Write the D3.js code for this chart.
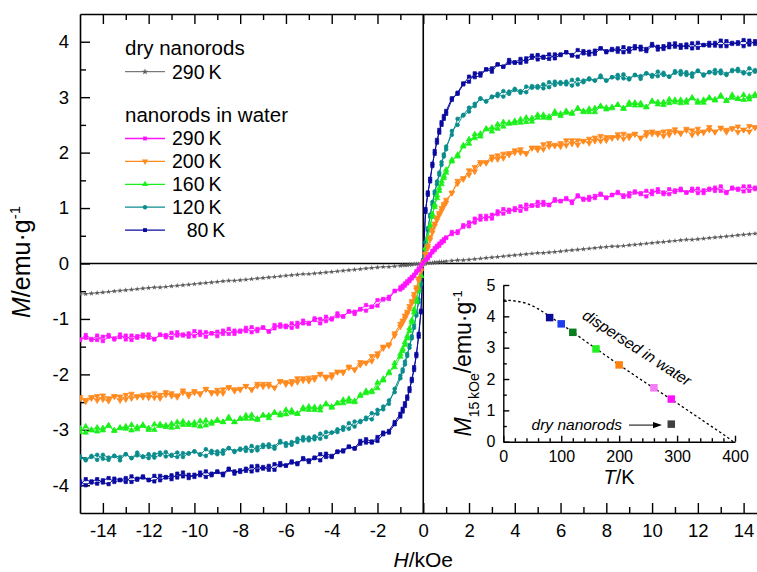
<!DOCTYPE html>
<html>
<head>
<meta charset="utf-8">
<script src="https://cdn.jsdelivr.net/npm/d3@7"></script>
<style>
  body { margin: 0; background: #fff; }
  svg { display: block; }
  text { font-family: "Liberation Sans", Arial, sans-serif; fill: #000; }
</style>
</head>
<body>
<svg id="chart" width="757" height="572"></svg>
<script>
// ---- magnetisation loops: applied field (kOe) and M (emu/g) ----
const field = [
  -15, -14.75, -14.5, -14.25, -14, -13.75, -13.5, -13.25, -13, -12.75,
  -12.5, -12.25, -12, -11.75, -11.5, -11.25, -11, -10.75, -10.5, -10.25,
  -10, -9.75, -9.5, -9.25, -9, -8.75, -8.5, -8.25, -8, -7.75,
  -7.5, -7.25, -7, -6.75, -6.5, -6.25, -6, -5.75, -5.5, -5.25,
  -5, -4.75, -4.5, -4.25, -4, -3.75, -3.5, -3.25, -3, -2.75,
  -2.5, -2.25, -2, -1.75, -1.5, -1.25,
  -1, -0.9, -0.8, -0.7, -0.6, -0.5, -0.4, -0.3, -0.2, -0.1, 0,
  0.1, 0.2, 0.3, 0.4, 0.5, 0.6, 0.7, 0.8, 0.9, 1,
  1.25, 1.5, 1.75, 2, 2.25, 2.5, 2.75, 3, 3.25, 3.5,
  3.75, 4, 4.25, 4.5, 4.75, 5, 5.25, 5.5, 5.75, 6,
  6.25, 6.5, 6.75, 7, 7.25, 7.5, 7.75, 8, 8.25, 8.5,
  8.75, 9, 9.25, 9.5, 9.75, 10, 10.25, 10.5, 10.75, 11,
  11.25, 11.5, 11.75, 12, 12.25, 12.5, 12.75, 13, 13.25, 13.5,
  13.75, 14, 14.25, 14.5, 14.75, 15
];

// dry nanorods, 290 K
const mDry290 = [
  -0.55, -0.55, -0.54, -0.53, -0.52, -0.51, -0.50, -0.49, -0.48, -0.47,
  -0.46, -0.45, -0.44, -0.43, -0.43, -0.42, -0.41, -0.40, -0.39, -0.38,
  -0.37, -0.36, -0.35, -0.34, -0.33, -0.32, -0.31, -0.31, -0.30, -0.29,
  -0.28, -0.27, -0.26, -0.25, -0.24, -0.23, -0.22, -0.21, -0.20, -0.19,
  -0.19, -0.18, -0.17, -0.16, -0.15, -0.14, -0.13, -0.12, -0.11, -0.10,
  -0.09, -0.08, -0.07, -0.06, -0.06, -0.05,
  -0.04, -0.03, -0.03, -0.03, -0.02, -0.02, -0.01, -0.01, -0.01, 0.00, 0.00,
  0.00, 0.01, 0.01, 0.01, 0.02, 0.02, 0.03, 0.03, 0.03, 0.04,
  0.05, 0.06, 0.06, 0.07, 0.08, 0.09, 0.10, 0.11, 0.12, 0.13,
  0.14, 0.15, 0.16, 0.17, 0.18, 0.19, 0.19, 0.20, 0.21, 0.22,
  0.23, 0.24, 0.25, 0.26, 0.27, 0.28, 0.29, 0.30, 0.31, 0.31,
  0.32, 0.33, 0.34, 0.35, 0.36, 0.37, 0.38, 0.39, 0.40, 0.41,
  0.42, 0.43, 0.43, 0.44, 0.45, 0.46, 0.47, 0.48, 0.49, 0.50,
  0.51, 0.52, 0.53, 0.54, 0.55, 0.56
];

// nanorods in water: field swept up (Up) and back down (Down), same field points
const mWater290Up = [
  -1.37, -1.34, -1.38, -1.30, -1.40, -1.32, -1.35, -1.28, -1.37, -1.30,
  -1.34, -1.32, -1.28, -1.36, -1.29, -1.33, -1.25, -1.30, -1.28, -1.32,
  -1.22, -1.29, -1.24, -1.26, -1.31, -1.21, -1.27, -1.21, -1.23, -1.16,
  -1.24, -1.18, -1.15, -1.23, -1.17, -1.10, -1.12, -1.16, -1.07, -1.08,
  -1.09, -0.99, -1.00, -1.04, -0.99, -0.90, -0.96, -0.86, -0.87, -0.82,
  -0.85, -0.78, -0.66, -0.65, -0.64, -0.50,
  -0.43, -0.44, -0.36, -0.36, -0.28, -0.27, -0.20, -0.17, -0.09, -0.06, 0.00,
  0.06, 0.09, 0.17, 0.20, 0.28, 0.29, 0.36, 0.37, 0.44, 0.46,
  0.57, 0.55, 0.66, 0.74, 0.74, 0.86, 0.80, 0.88, 0.89, 0.98,
  0.93, 1.00, 0.95, 1.06, 1.04, 1.04, 1.11, 1.06, 1.16, 1.12,
  1.16, 1.09, 1.21, 1.15, 1.20, 1.18, 1.24, 1.18, 1.24, 1.29,
  1.23, 1.21, 1.28, 1.27, 1.31, 1.25, 1.34, 1.28, 1.25, 1.32,
  1.35, 1.28, 1.31, 1.35, 1.27, 1.33, 1.37, 1.31, 1.27, 1.37,
  1.35, 1.30, 1.39, 1.34, 1.37, 1.32
];
const mWater290Down = [
  -1.38, -1.29, -1.36, -1.38, -1.32, -1.29, -1.37, -1.33, -1.30, -1.38,
  -1.31, -1.28, -1.34, -1.37, -1.28, -1.29, -1.34, -1.24, -1.30, -1.26,
  -1.31, -1.23, -1.32, -1.26, -1.23, -1.27, -1.18, -1.27, -1.21, -1.22,
  -1.15, -1.22, -1.16, -1.22, -1.11, -1.14, -1.15, -1.08, -1.14, -1.03,
  -1.07, -1.02, -1.08, -0.96, -1.01, -0.95, -0.95, -0.87, -0.91, -0.83,
  -0.75, -0.78, -0.76, -0.64, -0.60, -0.49,
  -0.47, -0.40, -0.40, -0.32, -0.32, -0.24, -0.23, -0.14, -0.12, -0.03, 0.02,
  0.07, 0.12, 0.14, 0.23, 0.24, 0.32, 0.32, 0.40, 0.40, 0.47,
  0.53, 0.58, 0.69, 0.67, 0.81, 0.79, 0.86, 0.81, 0.94, 0.90,
  0.97, 0.96, 1.03, 0.98, 1.05, 1.11, 1.06, 1.05, 1.13, 1.13,
  1.18, 1.12, 1.23, 1.17, 1.15, 1.22, 1.26, 1.19, 1.23, 1.27,
  1.20, 1.27, 1.30, 1.25, 1.21, 1.31, 1.29, 1.25, 1.34, 1.29,
  1.32, 1.28, 1.35, 1.27, 1.32, 1.35, 1.31, 1.39, 1.29, 1.35,
  1.33, 1.39, 1.31, 1.37, 1.30, 1.39
];

const mWater200Up = [
  -2.41, -2.49, -2.43, -2.39, -2.45, -2.48, -2.39, -2.40, -2.45, -2.35,
  -2.41, -2.37, -2.42, -2.34, -2.43, -2.37, -2.34, -2.38, -2.29, -2.39,
  -2.33, -2.34, -2.27, -2.34, -2.28, -2.34, -2.24, -2.27, -2.28, -2.21,
  -2.27, -2.17, -2.22, -2.17, -2.24, -2.12, -2.18, -2.12, -2.14, -2.07,
  -2.12, -2.05, -1.99, -2.04, -2.05, -1.96, -1.95, -1.88, -1.91, -1.78,
  -1.79, -1.76, -1.62, -1.50, -1.46, -1.30,
  -1.14, -1.03, -0.99, -0.87, -0.82, -0.68, -0.60, -0.43, -0.31, -0.14, 0.00,
  0.16, 0.28, 0.47, 0.56, 0.72, 0.78, 0.91, 0.95, 1.07, 1.10,
  1.28, 1.44, 1.52, 1.68, 1.66, 1.80, 1.83, 1.93, 1.88, 1.98,
  1.96, 2.00, 2.06, 1.99, 2.08, 2.05, 2.15, 2.11, 2.14, 2.11,
  2.22, 2.16, 2.22, 2.21, 2.17, 2.27, 2.21, 2.28, 2.26, 2.33,
  2.25, 2.31, 2.34, 2.26, 2.31, 2.38, 2.36, 2.30, 2.39, 2.37,
  2.34, 2.43, 2.40, 2.35, 2.38, 2.46, 2.37, 2.45, 2.41, 2.44,
  2.37, 2.41, 2.48, 2.45, 2.40, 2.47
];
const mWater200Down = [
  -2.44, -2.46, -2.41, -2.47, -2.38, -2.43, -2.40, -2.47, -2.37, -2.43,
  -2.39, -2.41, -2.36, -2.42, -2.37, -2.32, -2.39, -2.41, -2.33, -2.35,
  -2.30, -2.36, -2.26, -2.32, -2.34, -2.27, -2.23, -2.30, -2.26, -2.21,
  -2.28, -2.21, -2.17, -2.21, -2.24, -2.13, -2.14, -2.17, -2.07, -2.11,
  -2.06, -2.09, -2.00, -2.07, -2.00, -1.95, -1.97, -1.86, -1.92, -1.83,
  -1.79, -1.67, -1.67, -1.53, -1.48, -1.26,
  -1.09, -1.07, -0.94, -0.91, -0.77, -0.72, -0.55, -0.47, -0.27, -0.12, 0.03,
  0.18, 0.32, 0.43, 0.61, 0.68, 0.83, 0.87, 1.00, 1.03, 1.15,
  1.27, 1.49, 1.54, 1.60, 1.74, 1.83, 1.81, 1.88, 1.95, 1.90,
  1.99, 2.04, 2.00, 1.98, 2.09, 2.09, 2.06, 2.17, 2.12, 2.17,
  2.13, 2.22, 2.14, 2.21, 2.25, 2.21, 2.30, 2.22, 2.28, 2.27,
  2.34, 2.27, 2.33, 2.27, 2.37, 2.34, 2.33, 2.38, 2.32, 2.42,
  2.36, 2.40, 2.32, 2.43, 2.36, 2.41, 2.38, 2.44, 2.37, 2.43,
  2.47, 2.41, 2.38, 2.46, 2.44, 2.48
];

const mWater160Up = [
  -2.97, -3.05, -3.00, -2.96, -3.01, -2.92, -3.02, -2.96, -2.98, -2.91,
  -2.99, -2.93, -3.00, -2.90, -2.93, -2.95, -2.89, -2.95, -2.85, -2.91,
  -2.87, -2.94, -2.83, -2.89, -2.84, -2.86, -2.80, -2.86, -2.80, -2.74,
  -2.80, -2.82, -2.74, -2.74, -2.69, -2.74, -2.64, -2.69, -2.71, -2.63,
  -2.58, -2.64, -2.59, -2.54, -2.60, -2.52, -2.46, -2.49, -2.50, -2.37,
  -2.34, -2.32, -2.15, -2.11, -1.96, -1.87,
  -1.68, -1.54, -1.47, -1.31, -1.22, -1.02, -0.88, -0.65, -0.49, -0.23, -0.01,
  0.27, 0.45, 0.69, 0.84, 1.06, 1.18, 1.36, 1.43, 1.58, 1.64,
  1.87, 1.93, 2.11, 2.24, 2.26, 2.29, 2.43, 2.45, 2.43, 2.55,
  2.52, 2.57, 2.54, 2.63, 2.56, 2.63, 2.68, 2.65, 2.74, 2.66,
  2.72, 2.72, 2.79, 2.73, 2.79, 2.73, 2.83, 2.81, 2.80, 2.86,
  2.80, 2.90, 2.85, 2.89, 2.82, 2.93, 2.87, 2.91, 2.89, 2.95,
  2.89, 2.94, 2.99, 2.93, 2.90, 2.98, 2.96, 3.01, 2.94, 3.04,
  2.97, 2.95, 3.01, 3.05, 2.97, 3.01
];
const mWater160Down = [
  -3.04, -2.94, -3.01, -3.03, -2.97, -2.93, -3.01, -2.97, -2.94, -3.01,
  -2.95, -2.91, -2.97, -3.00, -2.90, -2.92, -2.96, -2.86, -2.91, -2.88,
  -2.92, -2.84, -2.92, -2.86, -2.82, -2.86, -2.77, -2.86, -2.80, -2.80,
  -2.73, -2.80, -2.74, -2.79, -2.69, -2.71, -2.72, -2.65, -2.71, -2.60,
  -2.64, -2.59, -2.65, -2.53, -2.58, -2.52, -2.52, -2.44, -2.48, -2.39,
  -2.30, -2.30, -2.25, -2.08, -1.98, -1.80,
  -1.63, -1.58, -1.42, -1.35, -1.17, -1.06, -0.83, -0.69, -0.44, -0.21, 0.04,
  0.28, 0.49, 0.65, 0.89, 1.02, 1.23, 1.31, 1.48, 1.54, 1.69,
  1.84, 1.96, 2.13, 2.16, 2.33, 2.34, 2.42, 2.38, 2.51, 2.47,
  2.54, 2.53, 2.60, 2.55, 2.62, 2.68, 2.63, 2.62, 2.70, 2.70,
  2.75, 2.70, 2.80, 2.75, 2.73, 2.80, 2.84, 2.78, 2.82, 2.86,
  2.79, 2.86, 2.90, 2.85, 2.82, 2.92, 2.91, 2.86, 2.96, 2.91,
  2.95, 2.90, 2.98, 2.90, 2.95, 2.99, 2.94, 3.03, 2.93, 2.99,
  2.97, 3.04, 2.96, 3.02, 2.95, 3.05
];

const mWater120Up = [
  -3.48, -3.55, -3.49, -3.45, -3.52, -3.54, -3.47, -3.49, -3.44, -3.51,
  -3.41, -3.48, -3.51, -3.44, -3.41, -3.48, -3.45, -3.41, -3.49, -3.42,
  -3.39, -3.44, -3.47, -3.38, -3.39, -3.43, -3.33, -3.38, -3.34, -3.38,
  -3.29, -3.37, -3.31, -3.26, -3.30, -3.20, -3.29, -3.22, -3.22, -3.13,
  -3.19, -3.12, -3.16, -3.04, -3.05, -3.04, -2.95, -2.98, -2.85, -2.86,
  -2.78, -2.81, -2.64, -2.63, -2.47, -2.32,
  -2.07, -1.91, -1.82, -1.63, -1.52, -1.31, -1.16, -0.90, -0.70, -0.38, 0.01,
  0.37, 0.60, 0.88, 1.06, 1.30, 1.43, 1.64, 1.78, 1.97, 2.06,
  2.39, 2.50, 2.68, 2.81, 2.84, 2.98, 2.92, 3.01, 3.02, 3.11,
  3.06, 3.13, 3.08, 3.19, 3.17, 3.17, 3.23, 3.18, 3.28, 3.24,
  3.28, 3.21, 3.32, 3.27, 3.32, 3.30, 3.36, 3.30, 3.36, 3.40,
  3.34, 3.32, 3.40, 3.38, 3.43, 3.37, 3.46, 3.40, 3.37, 3.44,
  3.47, 3.40, 3.43, 3.47, 3.39, 3.45, 3.49, 3.43, 3.40, 3.49,
  3.47, 3.43, 3.52, 3.46, 3.50, 3.45
];
const mWater120Down = [
  -3.51, -3.53, -3.47, -3.54, -3.45, -3.50, -3.47, -3.55, -3.44, -3.51,
  -3.46, -3.49, -3.44, -3.50, -3.45, -3.40, -3.47, -3.49, -3.42, -3.43,
  -3.39, -3.45, -3.35, -3.42, -3.44, -3.37, -3.33, -3.40, -3.36, -3.32,
  -3.38, -3.31, -3.27, -3.31, -3.34, -3.23, -3.24, -3.27, -3.16, -3.19,
  -3.14, -3.17, -3.07, -3.13, -3.05, -2.99, -3.00, -2.88, -2.94, -2.84,
  -2.81, -2.70, -2.71, -2.58, -2.53, -2.26,
  -2.02, -1.95, -1.77, -1.67, -1.47, -1.35, -1.11, -0.94, -0.65, -0.35, 0.05,
  0.39, 0.64, 0.84, 1.11, 1.26, 1.48, 1.60, 1.83, 1.93, 2.11,
  2.32, 2.61, 2.67, 2.74, 2.88, 2.97, 2.93, 3.00, 3.06, 3.01,
  3.10, 3.15, 3.11, 3.09, 3.20, 3.20, 3.16, 3.27, 3.22, 3.27,
  3.23, 3.31, 3.23, 3.30, 3.34, 3.30, 3.39, 3.30, 3.36, 3.34,
  3.41, 3.34, 3.40, 3.33, 3.43, 3.40, 3.38, 3.44, 3.37, 3.47,
  3.41, 3.45, 3.37, 3.48, 3.41, 3.45, 3.43, 3.48, 3.42, 3.47,
  3.51, 3.45, 3.42, 3.49, 3.48, 3.52
];

const mWater80Up = [
  -3.93, -4.00, -3.93, -3.89, -3.95, -3.98, -3.88, -3.90, -3.94, -3.84,
  -3.90, -3.86, -3.91, -3.83, -3.91, -3.86, -3.82, -3.86, -3.77, -3.87,
  -3.81, -3.82, -3.75, -3.82, -3.76, -3.82, -3.72, -3.75, -3.76, -3.70,
  -3.75, -3.65, -3.70, -3.65, -3.72, -3.60, -3.65, -3.59, -3.60, -3.53,
  -3.58, -3.51, -3.44, -3.49, -3.49, -3.39, -3.37, -3.30, -3.33, -3.20,
  -3.23, -3.23, -3.13, -3.05, -3.05, -2.90,
  -2.76, -2.62, -2.57, -2.40, -2.30, -2.08, -1.92, -1.63, -1.32, -0.88, 0.02,
  0.93, 1.28, 1.48, 1.80, 1.98, 2.23, 2.36, 2.55, 2.61, 2.75,
  2.98, 3.06, 3.23, 3.37, 3.36, 3.39, 3.50, 3.52, 3.59, 3.55,
  3.67, 3.63, 3.62, 3.70, 3.75, 3.68, 3.73, 3.77, 3.70, 3.77,
  3.81, 3.76, 3.73, 3.83, 3.82, 3.78, 3.88, 3.83, 3.87, 3.82,
  3.90, 3.82, 3.88, 3.91, 3.87, 3.96, 3.86, 3.92, 3.90, 3.97,
  3.89, 3.95, 3.88, 3.98, 3.94, 3.93, 3.98, 3.92, 4.01, 3.96,
  3.99, 3.92, 4.02, 3.96, 4.00, 3.98
];
const mWater80Down = [
  -3.99, -3.89, -3.95, -3.97, -3.91, -3.87, -3.94, -3.91, -3.87, -3.94,
  -3.88, -3.84, -3.90, -3.93, -3.83, -3.85, -3.89, -3.79, -3.84, -3.81,
  -3.85, -3.77, -3.85, -3.79, -3.75, -3.79, -3.70, -3.79, -3.73, -3.74,
  -3.66, -3.73, -3.67, -3.72, -3.62, -3.64, -3.64, -3.57, -3.62, -3.51,
  -3.55, -3.50, -3.55, -3.43, -3.47, -3.40, -3.39, -3.31, -3.34, -3.25,
  -3.17, -3.21, -3.20, -3.08, -3.02, -2.86,
  -2.71, -2.67, -2.52, -2.44, -2.25, -2.12, -1.87, -1.67, -1.27, -0.85, 0.06,
  0.98, 1.24, 1.53, 1.76, 2.03, 2.18, 2.41, 2.50, 2.66, 2.70,
  2.95, 3.08, 3.25, 3.28, 3.43, 3.43, 3.50, 3.46, 3.59, 3.55,
  3.62, 3.62, 3.69, 3.64, 3.71, 3.76, 3.71, 3.69, 3.77, 3.76,
  3.81, 3.75, 3.85, 3.79, 3.77, 3.84, 3.88, 3.81, 3.85, 3.88,
  3.81, 3.88, 3.92, 3.86, 3.83, 3.93, 3.91, 3.87, 3.96, 3.91,
  3.94, 3.90, 3.97, 3.89, 3.94, 3.98, 3.93, 4.02, 3.92, 3.98,
  3.96, 4.03, 3.95, 4.01, 3.94, 4.04
];

const xTickValues = [-14, -12, -10, -8, -6, -4, -2, 0, 2, 4, 6, 8, 10, 12, 14];
const yTickValues = [-4, -3, -2, -1, 0, 1, 2, 3, 4];

// ---- inset: M at 15 kOe versus temperature ----
const insetT = [80, 100, 120, 160, 200, 260, 290];
const insetM = [3.96, 3.76, 3.49, 2.96, 2.45, 1.72, 1.36];
const dryT = [290];
const dryM = [0.56];
const fitT = [0, 20, 40, 60, 80, 100, 120, 140, 160, 180, 200, 220, 240, 260, 280, 300, 320, 340, 360, 380, 397];
const fitM = [4.52, 4.49, 4.41, 4.24, 4.00, 3.75, 3.50, 3.23, 2.97, 2.71, 2.45, 2.20, 1.95, 1.71, 1.47, 1.23, 0.98, 0.73, 0.48, 0.23, 0.00];
const insetXTicks = [0, 100, 200, 300, 400];
const insetYTicks = [0, 1, 2, 3, 4, 5];

// ---- styling ----
const insetColors = ["#0a0a96", "#1c3cf0", "#0a7d1e", "#22f022", "#ff8210", "#f47cf4", "#ff10ff"];

const series = [
  { key: "dry", label: "290\u2009K", runs: [mDry290], color: "#5a5a5a", symbol: d3.symbolStar, size: 9, width: 0.8 },
  { key: "w80", label: "\u2007\u200980\u2009K", runs: [mWater80Up, mWater80Down], color: "#0a0aa0", symbol: d3.symbolSquare, size: 11, width: 1 },
  { key: "w120", label: "120\u2009K", runs: [mWater120Up, mWater120Down], color: "#0a8c8c", symbol: d3.symbolCircle, size: 11, width: 1 },
  { key: "w160", label: "160\u2009K", runs: [mWater160Up, mWater160Down], color: "#1af01a", symbol: d3.symbolTriangle, size: 13, width: 1 },
  { key: "w200", label: "200\u2009K", runs: [mWater200Up, mWater200Down], color: "#ff8a1e", symbol: d3.symbolTriangle, size: 13, width: 1, flip: true },
  { key: "w290", label: "290\u2009K", runs: [mWater290Up, mWater290Down], color: "#ff14ff", symbol: d3.symbolSquare, size: 11, width: 1 }
];

const svg = d3.select("#chart");
const margin = { left: 80, top: 14 };
const plotRight = 766.5, plotBottom = 513;

const x = d3.scaleLinear().domain([-15, 15]).range([margin.left, plotRight]);
const y = d3.scaleLinear().domain([-4.5, 4.5]).range([plotBottom, margin.top]);

const axisStyle = g => {
  g.select(".domain").attr("stroke", "#000").attr("stroke-width", 1.6);
  g.selectAll(".tick line").attr("stroke", "#000").attr("stroke-width", 1.4);
  g.selectAll("text").attr("fill", "#000");
};
const plain = d => String(d);

// zero lines through the origin
svg.append("line").attr("x1", margin.left).attr("x2", plotRight)
  .attr("y1", y(0)).attr("y2", y(0)).attr("stroke", "#000").attr("stroke-width", 1.6);
svg.append("line").attr("x1", x(0)).attr("x2", x(0))
  .attr("y1", margin.top).attr("y2", plotBottom).attr("stroke", "#000").attr("stroke-width", 1.6);

// bottom axis with labels
const gx = svg.append("g").attr("transform", `translate(0,${plotBottom})`)
  .call(d3.axisBottom(x).tickValues(xTickValues).tickSize(-10).tickSizeOuter(0).tickPadding(11).tickFormat(plain))
  .call(axisStyle);
gx.selectAll("text").style("font-size", "18.5px");
svg.append("g").attr("transform", `translate(0,${plotBottom})`)
  .call(d3.axisBottom(x).tickValues(d3.range(-13, 14, 2)).tickSize(-6).tickSizeOuter(0).tickFormat(""))
  .call(axisStyle).select(".domain").remove();

// top axis, ticks only
svg.append("g").attr("transform", `translate(0,${margin.top})`)
  .call(d3.axisTop(x).tickValues(xTickValues).tickSize(-10).tickSizeOuter(0).tickFormat(""))
  .call(axisStyle);
svg.append("g").attr("transform", `translate(0,${margin.top})`)
  .call(d3.axisTop(x).tickValues(d3.range(-13, 14, 2)).tickSize(-6).tickSizeOuter(0).tickFormat(""))
  .call(axisStyle).select(".domain").remove();

// left axis
const gy = svg.append("g").attr("transform", `translate(${margin.left},0)`)
  .call(d3.axisLeft(y).tickValues(yTickValues).tickSize(-10).tickSizeOuter(0).tickPadding(11).tickFormat(plain))
  .call(axisStyle);
gy.selectAll("text").style("font-size", "18.5px");
svg.append("g").attr("transform", `translate(${margin.left},0)`)
  .call(d3.axisLeft(y).tickValues(d3.range(-3.5, 4, 1)).tickSize(-6).tickSizeOuter(0).tickFormat(""))
  .call(axisStyle).select(".domain").remove();

// axis titles
const xt = svg.append("text").attr("x", x(0)).attr("y", 567).attr("text-anchor", "middle")
  .style("font-size", "21px");
xt.append("tspan").style("font-style", "italic").text("H");
xt.append("tspan").text("/kOe");

const yt = svg.append("text").attr("transform", "translate(30,262) rotate(-90)")
  .attr("text-anchor", "middle").style("font-size", "25px");
yt.append("tspan").style("font-style", "italic").text("M");
yt.append("tspan").text("/emu\u00b7g");
yt.append("tspan").attr("dy", -10).style("font-size", "15px").text("-1");

// curves
svg.append("clipPath").attr("id", "plotClip").append("rect")
  .attr("x", margin.left).attr("y", margin.top)
  .attr("width", plotRight - margin.left).attr("height", plotBottom - margin.top);

const curves = svg.append("g").attr("clip-path", "url(#plotClip)");
const line = d3.line().x(d => x(d[0])).y(d => y(d[1]));

series.forEach(s => {
  const g = curves.append("g");
  const sym = d3.symbol().type(s.symbol).size(s.size);
  s.runs.forEach(run => {
    const pts = field.map((h, i) => [h, run[i]]).filter(d => d[1] !== undefined);
    g.append("path").datum(pts).attr("d", line).attr("fill", "none")
      .attr("stroke", s.color).attr("stroke-width", s.width).attr("stroke-linejoin", "round");
    g.append("g").selectAll("path").data(pts).join("path")
      .attr("d", sym)
      .attr("transform", d => `translate(${x(d[0])},${y(d[1])})${s.flip ? " rotate(180)" : ""}`)
      .attr("fill", s.color).attr("stroke", s.key === "dry" ? "none" : s.color).attr("stroke-width", 0.7);
  });
});

// legend
const lg = svg.append("g");
const legText = (tx, ty, str, size) => lg.append("text").attr("x", tx).attr("y", ty).style("font-size", size).text(str);
legText(125, 55, "dry nanorods", "20.5px");
legText(125, 122, "nanorods in water", "20.5px");

const legendRows = [
  { s: series[0], y: 71.7 },
  { s: series[5], y: 138.5 },
  { s: series[4], y: 161.4 },
  { s: series[3], y: 184.3 },
  { s: series[2], y: 207.2 },
  { s: series[1], y: 230.1 }
];
legendRows.forEach(r => {
  lg.append("line").attr("x1", 125).attr("x2", 165).attr("y1", r.y).attr("y2", r.y)
    .attr("stroke", r.s.color).attr("stroke-width", r.s.key === "dry" ? 1 : 1.3);
  lg.append("path").attr("d", d3.symbol().type(r.s.symbol).size(r.s.size + 4)())
    .attr("transform", `translate(145,${r.y})${r.s.flip ? " rotate(180)" : ""}`)
    .attr("fill", r.s.color);
  legText(172, r.y + 6.8, r.s.label, "19.5px");
});

// ---- inset ----
const ix = d3.scaleLinear().domain([0, 400]).range([503.3, 735]);
const iy = d3.scaleLinear().domain([0, 5]).range([441.7, 285]);

const ia = svg.append("g");
const gix = ia.append("g").attr("transform", `translate(0,${iy(0)})`)
  .call(d3.axisBottom(ix).tickValues(insetXTicks).tickSize(-6).tickSizeOuter(0).tickPadding(9).tickFormat(plain))
  .call(axisStyle);
gix.selectAll("text").style("font-size", "16px");
ia.append("g").attr("transform", `translate(0,${iy(0)})`)
  .call(d3.axisBottom(ix).tickValues(d3.range(20, 400, 20).filter(v => v % 100 !== 0)).tickSize(-3.5).tickSizeOuter(0).tickFormat(""))
  .call(axisStyle).select(".domain").remove();

const giy = ia.append("g").attr("transform", `translate(${ix(0)},0)`)
  .call(d3.axisLeft(iy).tickValues(insetYTicks).tickSize(-6).tickSizeOuter(0).tickPadding(8).tickFormat(plain))
  .call(axisStyle);
giy.selectAll("text").style("font-size", "16px");
ia.append("g").attr("transform", `translate(${ix(0)},0)`)
  .call(d3.axisLeft(iy).tickValues([0.5, 1.5, 2.5, 3.5, 4.5]).tickSize(-3.5).tickSizeOuter(0).tickFormat(""))
  .call(axisStyle).select(".domain").remove();
ia.selectAll(".domain").attr("stroke-width", 1.4);

// inset titles
const itx = ia.append("text").attr("x", ix(200)).attr("y", 484).attr("text-anchor", "middle")
  .style("font-size", "20px");
itx.append("tspan").style("font-style", "italic").text("T");
itx.append("tspan").text("/K");

const ity = ia.append("text").attr("transform", `translate(471,${(iy(0) + iy(5)) / 2}) rotate(-90)`)
  .attr("text-anchor", "middle").style("font-size", "23px");
ity.append("tspan").style("font-style", "italic").text("M");
ity.append("tspan").attr("dy", 8).style("font-size", "14px").text("15\u2009kOe");
ity.append("tspan").attr("dy", -8).text("/emu\u00b7g");
ity.append("tspan").attr("dy", -9).style("font-size", "13px").text("-1");

// dashed trend line
ia.append("path").datum(fitT.map((t, i) => [t, fitM[i]]))
  .attr("d", d3.line().curve(d3.curveMonotoneX).x(d => ix(d[0])).y(d => iy(d[1])))
  .attr("fill", "none").attr("stroke", "#000").attr("stroke-width", 1.3).attr("stroke-dasharray", "2.5,2.5");

// measured points
const sq = 7.5;
ia.selectAll("rect.water").data(insetT.map((t, i) => ({ t, m: insetM[i], c: insetColors[i] })))
  .join("rect").attr("class", "water")
  .attr("x", d => ix(d.t) - sq / 2).attr("y", d => iy(d.m) - sq / 2)
  .attr("width", sq).attr("height", sq).attr("fill", d => d.c);
ia.selectAll("rect.dry").data(dryT.map((t, i) => ({ t, m: dryM[i] })))
  .join("rect").attr("class", "dry")
  .attr("x", d => ix(d.t) - sq / 2).attr("y", d => iy(d.m) - sq / 2)
  .attr("width", sq).attr("height", sq).attr("fill", "#404040");

// annotations
ia.append("text").attr("transform", `translate(${ix(231)},${iy(3.0)}) rotate(33)`)
  .attr("text-anchor", "middle").attr("dominant-baseline", "central")
  .style("font-size", "15.5px").style("font-style", "italic").text("dispersed in water");
ia.append("text").attr("x", ix(205)).attr("y", iy(0.37)).attr("text-anchor", "end")
  .style("font-size", "15.5px").style("font-style", "italic").text("dry nanorods");
const ax1 = ix(217), ax2 = ix(274), ay = iy(0.53);
ia.append("line").attr("x1", ax1).attr("x2", ax2 - 6).attr("y1", ay).attr("y2", ay)
  .attr("stroke", "#000").attr("stroke-width", 1);
ia.append("path").attr("d", `M${ax2},${ay} L${ax2 - 9},${ay - 3.2} L${ax2 - 9},${ay + 3.2} Z`).attr("fill", "#000");
</script>
</body>
</html>
